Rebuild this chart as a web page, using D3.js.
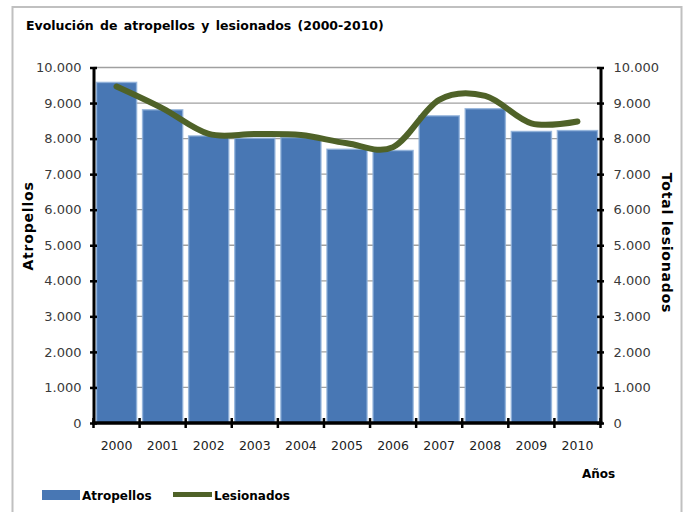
<!DOCTYPE html>
<html>
<head>
<meta charset="utf-8">
<script src="https://d3js.org/d3.v7.min.js"></script>
<style>
  body { margin: 0; background: #fff; }
  svg { display: block; font-family: "DejaVu Sans", sans-serif; }
</style>
</head>
<body>
<svg width="685" height="512"></svg>
<script>
var years = ["2000", "2001", "2002", "2003", "2004", "2005", "2006", "2007", "2008", "2009", "2010"];
var atropellos = [9580, 8810, 8075, 8010, 8030, 7700, 7665, 8640, 8840, 8200, 8225];
var lesionados = [9465, 8850, 8130, 8130, 8100, 7870, 7760, 9090, 9200, 8430, 8480];
var yTicks = [0, 1000, 2000, 3000, 4000, 5000, 6000, 7000, 8000, 9000, 10000];

var svg = d3.select("svg"),
    width = +svg.attr("width"),
    height = +svg.attr("height");

var plotLeft = 93.5, plotRight = 600.5, plotTop = 67.5, plotBottom = 423;

// frame around the whole chart
svg.append("rect")
    .attr("x", 12.5).attr("y", 7)
    .attr("width", 669).attr("height", 520)
    .attr("fill", "#fff")
    .attr("stroke", "#c0c0c0")
    .attr("stroke-width", 2);

svg.append("text")
    .attr("x", 26).attr("y", 30)
    .attr("font-size", 12.5)
    .attr("font-weight", "bold")
    .attr("word-spacing", 2)
    .attr("fill", "#000")
    .text("Evolución de atropellos y lesionados (2000-2010)");

var x = d3.scaleBand()
    .domain(years)
    .range([plotLeft, plotRight])
    .paddingInner(0.13)
    .paddingOuter(0.065);

var y = d3.scaleLinear()
    .domain([0, 10000])
    .range([plotBottom, plotTop]);

var fmt = function(d) { return d3.format(",")(d).replace(/,/g, "."); };

// gridlines
svg.append("g")
    .selectAll("line")
    .data(yTicks.slice(1))
    .enter()
    .append("line")
    .attr("x1", plotLeft).attr("x2", plotRight)
    .attr("y1", function(d) { return y(d); })
    .attr("y2", function(d) { return y(d); })
    .attr("stroke", "#a0a0a0")
    .attr("stroke-width", 1.3);

// bars
svg.append("g")
    .selectAll("rect")
    .data(atropellos)
    .enter()
    .append("rect")
    .attr("x", function(d, i) { return x(years[i]); })
    .attr("y", function(d) { return y(d); })
    .attr("width", x.bandwidth())
    .attr("height", function(d) { return plotBottom - y(d); })
    .attr("fill", "#4877b4")
    .attr("stroke", "#8eb0da")
    .attr("stroke-opacity", 0.8)
    .attr("stroke-width", 1.5);

// left axis
var yLeft = d3.axisLeft(y).tickValues(yTicks).tickSizeInner(4).tickSizeOuter(0).tickFormat(fmt).tickPadding(8);
var gl = svg.append("g").attr("transform", "translate(" + plotLeft + ",0)").call(yLeft);

// right axis
var yRight = d3.axisRight(y).tickValues(yTicks).tickSizeInner(4).tickSizeOuter(0).tickFormat(fmt).tickPadding(9);
var gr = svg.append("g").attr("transform", "translate(" + plotRight + ",0)").call(yRight);

[gl, gr].forEach(function(g) {
    g.select(".domain").attr("stroke", "#000").attr("stroke-width", 3);
    g.selectAll(".tick line")
        .attr("stroke", "#000").attr("stroke-width", 2.5)
        .attr("x1", -3.5).attr("x2", 3.5);
    g.selectAll(".tick text")
        .attr("font-size", 13)
        .attr("font-family", "DejaVu Sans")
        .attr("fill", "#3a3a3a");
});

// x axis with ticks at category boundaries
var gx = svg.append("g").attr("transform", "translate(0," + plotBottom + ")");
gx.append("line")
    .attr("x1", plotLeft - 1.5).attr("x2", plotRight + 2)
    .attr("stroke", "#000").attr("stroke-width", 3.5);
var bounds = years.map(function(d) { return x(d) - x.step() * x.paddingInner() / 2; }).concat([plotRight]);
bounds[0] = plotLeft;
gx.selectAll(".bt")
    .data(bounds)
    .enter()
    .append("line")
    .attr("x1", function(d) { return d; }).attr("x2", function(d) { return d; })
    .attr("y1", -5).attr("y2", 5)
    .attr("stroke", "#000").attr("stroke-width", 2.5);
gx.selectAll(".yl")
    .data(years)
    .enter()
    .append("text")
    .attr("x", function(d) { return x(d) + x.bandwidth() / 2; })
    .attr("y", 27)
    .attr("text-anchor", "middle")
    .attr("font-size", 12.5)
    .attr("fill", "#222")
    .text(function(d) { return d; });

// line series
var line = d3.line()
    .x(function(d, i) { return x(years[i]) + x.bandwidth() / 2; })
    .y(function(d) { return y(d); })
    .curve(d3.curveCardinal.tension(0));

svg.append("path")
    .datum(lesionados)
    .attr("d", line)
    .attr("fill", "none")
    .attr("stroke", "#4f6228")
    .attr("stroke-width", 6)
    .attr("stroke-linecap", "round");

// axis titles
svg.append("text")
    .attr("transform", "translate(33,226) rotate(-90)")
    .attr("text-anchor", "middle")
    .attr("font-size", 14)
    .attr("font-weight", "bold")
    .attr("letter-spacing", 0.8)
    .text("Atropellos");

svg.append("text")
    .attr("transform", "translate(662,243) rotate(90)")
    .attr("text-anchor", "middle")
    .attr("font-size", 14)
    .attr("font-weight", "bold")
    .attr("letter-spacing", 0.8)
    .text("Total lesionados");

svg.append("text")
    .attr("x", 582).attr("y", 478)
    .attr("font-size", 12)
    .attr("font-weight", "bold")
    .text("Años");

// legend
var legend = svg.append("g");
legend.append("rect")
    .attr("x", 42).attr("y", 490)
    .attr("width", 38).attr("height", 10)
    .attr("fill", "#4877b4");
legend.append("text")
    .attr("x", 82).attr("y", 499.5)
    .attr("font-size", 12)
    .attr("font-weight", "bold")
    .text("Atropellos");
legend.append("line")
    .attr("x1", 173).attr("x2", 212)
    .attr("y1", 494.5).attr("y2", 494.5)
    .attr("stroke", "#4f6228")
    .attr("stroke-width", 5);
legend.append("text")
    .attr("x", 214).attr("y", 499.5)
    .attr("font-size", 12)
    .attr("font-weight", "bold")
    .text("Lesionados");
</script>
</body>
</html>
